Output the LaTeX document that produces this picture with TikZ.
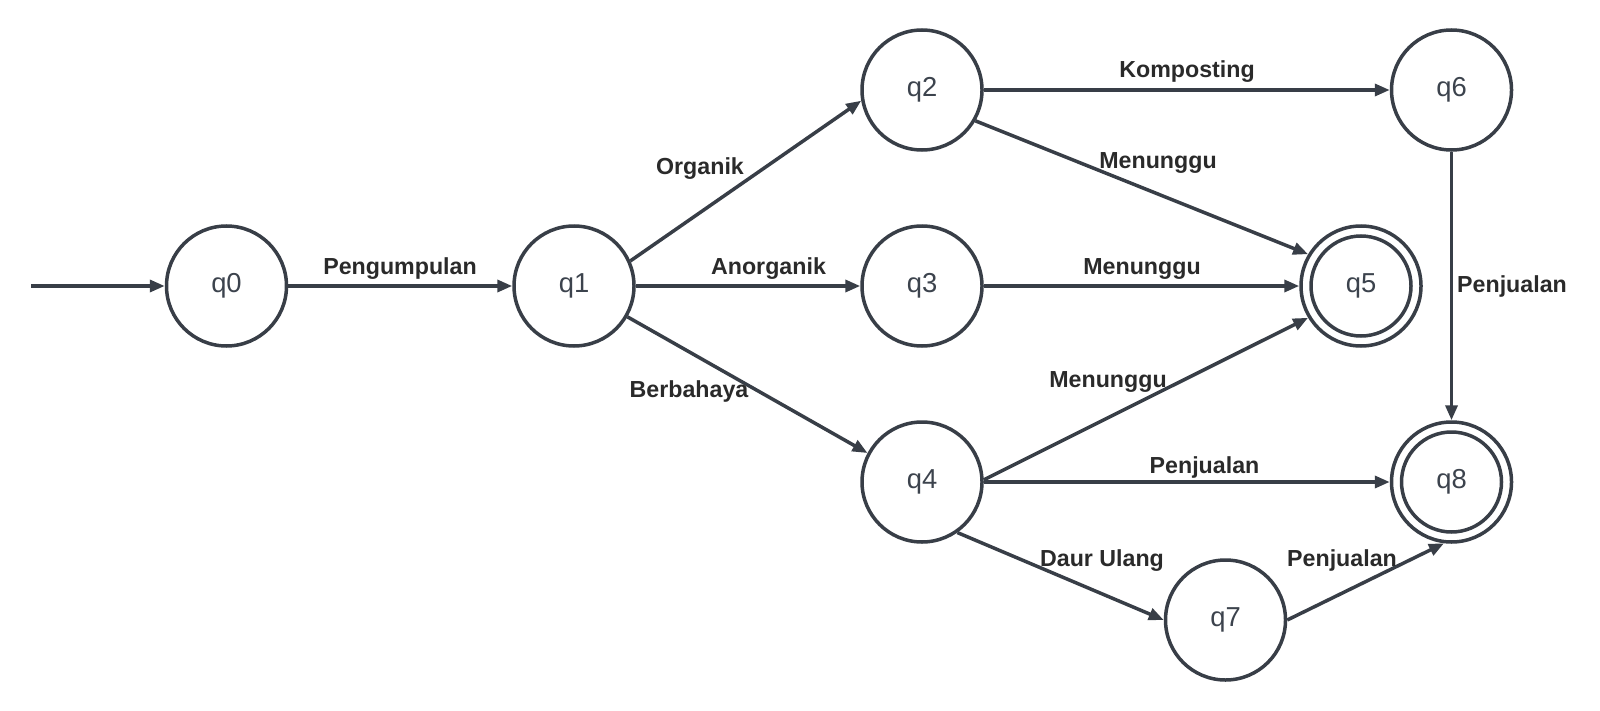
\documentclass[tikz,border=0pt]{standalone}
\usepackage{fontspec}
\setmainfont{Liberation Sans}
\usetikzlibrary{arrows.meta}
\definecolor{linec}{HTML}{383E47}
\definecolor{labc}{HTML}{2A2A2A}
\definecolor{statec}{HTML}{3C434D}
\begin{document}
\begin{tikzpicture}[x=1bp,y=-1bp,
  state/.style={circle,draw=linec,line width=3.5bp,minimum size=120bp,inner sep=0pt,
    text=statec,font=\fontsize{27.5}{30}\selectfont},
  ring/.style={draw=linec,line width=3.5bp},
  edge/.style={draw=linec,line width=3.5bp,-{Triangle[length=15bp,width=12bp]}},
  lbl/.style={anchor=base,text=labc,inner sep=0pt,font=\fontsize{23.3}{26}\selectfont\bfseries}]
\useasboundingbox (0,0) rectangle (1600,711);
% states
\node[state] (q0) at (226.5,286) {q0};
\node[state] (q1) at (574,286) {q1};
\node[state] (q2) at (922,90) {q2};
\node[state] (q3) at (922,286) {q3};
\node[state] (q4) at (922,482) {q4};
\node[state] (q5) at (1361,286) {q5};
\node[state] (q6) at (1451.5,90) {q6};
\node[state] (q7) at (1225.5,620) {q7};
\node[state] (q8) at (1451.5,482) {q8};
\draw[ring] (q5) circle[radius=50];
\draw[ring] (q8) circle[radius=50];
\coordinate (start) at (31,286);
% edges
\draw[edge] (start) -- (q0.west);
\draw[edge] (q0.east) -- (q1.west);
\draw[edge] (q1.24) -- (q2.190);
\draw[edge] (q1.east) -- (q3.west);
\draw[edge] (q1.-30) -- (q4.152);
\draw[edge] (q2.east) -- (q6.west);
\draw[edge] (q2.-30) -- (q5.149);
\draw[edge] (q3.east) -- (q5.west);
\draw[edge] (q4.2) -- (q5.211);
\draw[edge] (q4.east) -- (q8.west);
\draw[edge] (q4.-55) -- (q7.west);
\draw[edge] (q7.east) -- (q8.-97);
\draw[edge] (q6.south) -- (q8.north);
% labels
\node[lbl] (l1) at (400,274) {Pengumpulan};
\node[lbl] (l2) at (700,174) {Organik};
\node[lbl] (l3) at (768.5,274) {Anorganik};
\node[lbl] (l4) at (689,397) {Berbahaya};
\node[lbl] (l5) at (1187,78) {Komposting};
\node[lbl] (l6) at (1158,168) {Menunggu};
\node[lbl] (l7) at (1142,274) {Menunggu};
\node[lbl] (l8) at (1108,387) {Menunggu};
\node[lbl] (l9) at (1204.5,473) {Penjualan};
\node[lbl] (l10) at (1102,566) {Daur Ulang};
\node[lbl] (l11) at (1342,566) {Penjualan};
\node[lbl] (l12) at (1512,292) {Penjualan};
\end{tikzpicture}
\end{document}
